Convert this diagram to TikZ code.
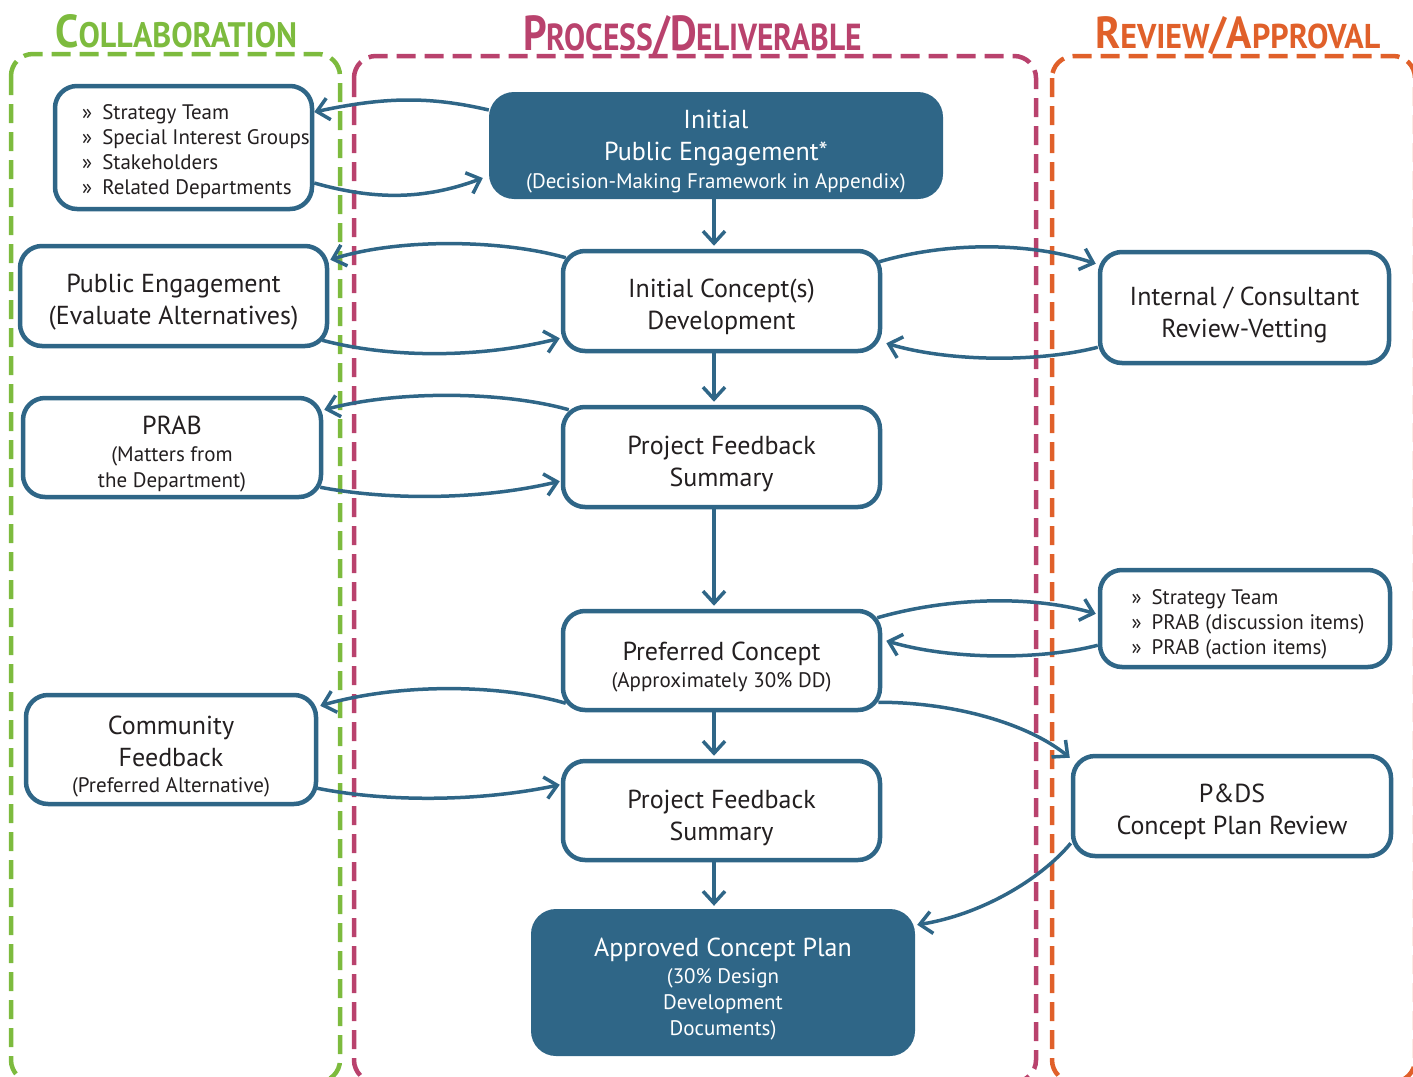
\documentclass[tikz,border=0pt]{standalone}
\usepackage{fontspec}
\setmainfont{PT Sans}
\usepackage{graphicx}
\usetikzlibrary{arrows.meta}
\definecolor{nodeblue}{HTML}{2F6687}
\definecolor{cgreen}{HTML}{7DBB3E}
\definecolor{cmag}{HTML}{B9426D}
\definecolor{corange}{HTML}{E0602A}
\definecolor{textdark}{HTML}{231F20}
\newcommand{\fntmain}{\fontsize{26}{32}\selectfont}
\newcommand{\fntsmall}{\fontsize{21}{25}\selectfont}
\newcommand{\hbig}{\fontsize{47}{47}\selectfont}
\newcommand{\hsmall}{\fontsize{36}{36}\selectfont}
\newcommand{\tshift}[1]{\rule{0pt}{#1pt}}
\tikzset{
  box/.style={draw=nodeblue, line width=4.5pt, rounded corners=22pt, fill=white,
    text=textdark, align=center, inner sep=0pt, font=\fntmain},
  solidbox/.style={fill=nodeblue, rounded corners=25pt, text=white, align=center,
    inner sep=0pt, font=\fntmain},
  conn/.style={draw=nodeblue, line width=3.5pt, -{Straight Barb[length=12pt,width=22pt]}},
  frame/.style={line width=4.5pt, dash pattern=on 19pt off 9pt, rounded corners=22pt},
  header/.style={inner sep=0pt, anchor=base west, font=\bfseries}
}
\begin{document}
\begin{tikzpicture}[x=1pt,y=-1pt]
\useasboundingbox (0,0) rectangle (1413,1076);
\begin{scope}
  \clip (0,0) rectangle (1413,1076);
  \draw[frame, cgreen] (11,54) rectangle (340,1082);
  \draw[frame, cmag] (354,56) rectangle (1036,1082);
  \draw[frame, corange] (1052,56) rectangle (1415,1082);
\end{scope}

% headers
\node[header, text=cgreen] (hcollab) at (55,47)
  {\resizebox{242pt}{33pt}{{\hbig C}{\hsmall OLLABORATION}}};
\node[header, text=cmag] (hprocess) at (523,50)
  {\resizebox{339pt}{35pt}{{\hbig P}{\hsmall ROCESS}{\hbig /D}{\hsmall ELIVERABLE}}};
\node[header, text=corange] (hreview) at (1095,48)
  {\resizebox{285pt}{32pt}{{\hbig R}{\hsmall EVIEW}{\hbig /A}{\hsmall PPROVAL}}};

\coordinate (spine) at (714,0);

% nodes
\node[box, minimum width=257pt, minimum height=123pt, font=\fntsmall] (c1) at (183.5,147.5)
  {\tshift{64}\begin{tabular}{@{\hspace{25pt}}l@{\hspace{10pt}}l@{}}
   » & Strategy Team\\ » & Special Interest Groups\\ » & Stakeholders\\ » & Related Departments
   \end{tabular}};
\node[solidbox, minimum width=454pt, minimum height=107pt] (ipe) at (716,145.5)
  {\tshift{31}Initial\\Public Engagement*\\[-4pt]\fntsmall(Decision-Making Framework in Appendix)};
\node[box, minimum width=307pt, minimum height=100pt] (pe) at (173.5,296)
  {\tshift{31}Public Engagement\\(Evaluate Alternatives)};
\node[box, minimum width=317pt, minimum height=100pt] (icd) at (721.5,301)
  {\tshift{31}Initial Concept(s)\\Development};
\node[box, minimum width=289pt, minimum height=111pt] (irv) at (1244.5,307.5)
  {\tshift{34}Internal / Consultant\\Review-Vetting};
\node[box, minimum width=298pt, minimum height=99pt] (prab) at (172,447.5)
  {\tshift{32}PRAB\\[-5pt]\fntsmall(Matters from\\[-6pt]\fntsmall the Department)};
\node[box, minimum width=317pt, minimum height=100pt] (pfs1) at (721.5,457)
  {\tshift{32}Project Feedback\\Summary};
\node[box, minimum width=317pt, minimum height=99pt] (pc) at (721.5,660.5)
  {\tshift{32}Preferred Concept\\[-5pt]\fntsmall(Approximately 30\% DD)};
\node[box, minimum width=290pt, minimum height=97pt, font=\fntsmall] (l2) at (1245,618.5)
  {\tshift{54}\begin{tabular}{@{\hspace{6pt}}l@{\hspace{10pt}}l@{}}
   » & Strategy Team\\ » & PRAB (discussion items)\\ » & PRAB (action items)
   \end{tabular}};
\node[box, minimum width=290pt, minimum height=109pt] (cf) at (171,749.5)
  {\tshift{33}Community\\Feedback\\[-6pt]\fntsmall(Preferred Alternative)};
\node[box, minimum width=317pt, minimum height=99pt] (pfs2) at (721.5,810.5)
  {\tshift{33}Project Feedback\\Summary};
\node[box, minimum width=318pt, minimum height=100pt] (pds) at (1232,806)
  {\tshift{31}P\&DS\\Concept Plan Review};
\node[solidbox, minimum width=384pt, minimum height=147pt] (acp) at (723,982.5)
  {\tshift{32}Approved Concept Plan\\[-5pt]\fntsmall(30\% Design\\[-6pt]\fntsmall Development\\[-6pt]\fntsmall Documents)};

% vertical flow
\draw[conn, shorten >=3pt] (ipe.south -| spine) -- (icd.north -| spine);
\draw[conn, shorten >=3pt] (icd.south -| spine) -- (pfs1.north -| spine);
\draw[conn, shorten >=3pt] (pfs1.south -| spine) -- (pc.north -| spine);
\draw[conn, shorten >=3pt] (pc.south -| spine) -- (pfs2.north -| spine);
\draw[conn, shorten >=3pt] (pfs2.south -| spine) -- (acp.north -| spine);

% curved connectors
\draw[conn] ([yshift=35.5pt]ipe.west) .. controls +(-60,-14) and +(70,-15) .. ([yshift=35.5pt]c1.east);
\draw[conn] ([yshift=-35.5pt]c1.east) .. controls +(60,17) and +(-59,22) .. ([xshift=-6pt,yshift=-32.5pt]ipe.west);
\draw[conn] ([xshift=5pt,yshift=-9pt]icd.north west) .. controls +(-63,-18) and +(70,-22) .. ([xshift=1pt,yshift=-16pt]pe.north east);
\draw[conn] ([xshift=-7pt,yshift=8pt]pe.south east) .. controls +(68,18) and +(-80,20) .. ([xshift=-1pt,yshift=15pt]icd.south west);
\draw[conn] ([xshift=-3pt,yshift=-13pt]icd.north east) .. controls +(68,-20) and +(-66,-22) .. ([xshift=-2pt,yshift=-14pt]irv.north west);
\draw[conn] ([yshift=18pt]irv.south west) .. controls +(-58,15) and +(64,19) .. ([xshift=4pt,yshift=10pt]icd.south east);
\draw[conn] ([xshift=8pt,yshift=-5pt]pfs1.north west) .. controls +(-63,-18) and +(76,-20) .. ([xshift=1pt,yshift=-14pt]prab.north east);
\draw[conn] ([xshift=-3pt,yshift=12pt]prab.south east) .. controls +(67,13) and +(-80,19) .. ([xshift=-1pt,yshift=28pt]pfs1.south west);
\draw[conn] ([xshift=-5pt,yshift=-9pt]pc.north east) .. controls +(70,-20) and +(-66,-19) .. ([xshift=-2pt,yshift=-46pt]l2.north west);
\draw[conn] ([yshift=24pt]l2.south west) .. controls +(-58,15) and +(64,19) .. ([xshift=4pt,yshift=-32pt]pc.north east);
\draw[conn] ([xshift=5pt,yshift=9pt]pc.south west) .. controls +(-65,-19) and +(80,-23) .. ([xshift=2pt,yshift=-13pt]cf.north east);
\draw[conn] ([xshift=-1pt,yshift=18pt]cf.south east) .. controls +(70,14) and +(-80,17) .. ([xshift=-1pt,yshift=-26pt]pfs2.north west);
\draw[conn] ([xshift=-4pt,yshift=10pt]pc.south east) .. controls +(78,0) and +(-40,-33) .. ([xshift=-1pt,yshift=-4pt]pds.north west);
\draw[conn] ([yshift=15pt]pds.south west) .. controls +(-31,37) and +(63,-10) .. ([xshift=2pt,yshift=-16pt]acp.north east);
\end{tikzpicture}
\end{document}
